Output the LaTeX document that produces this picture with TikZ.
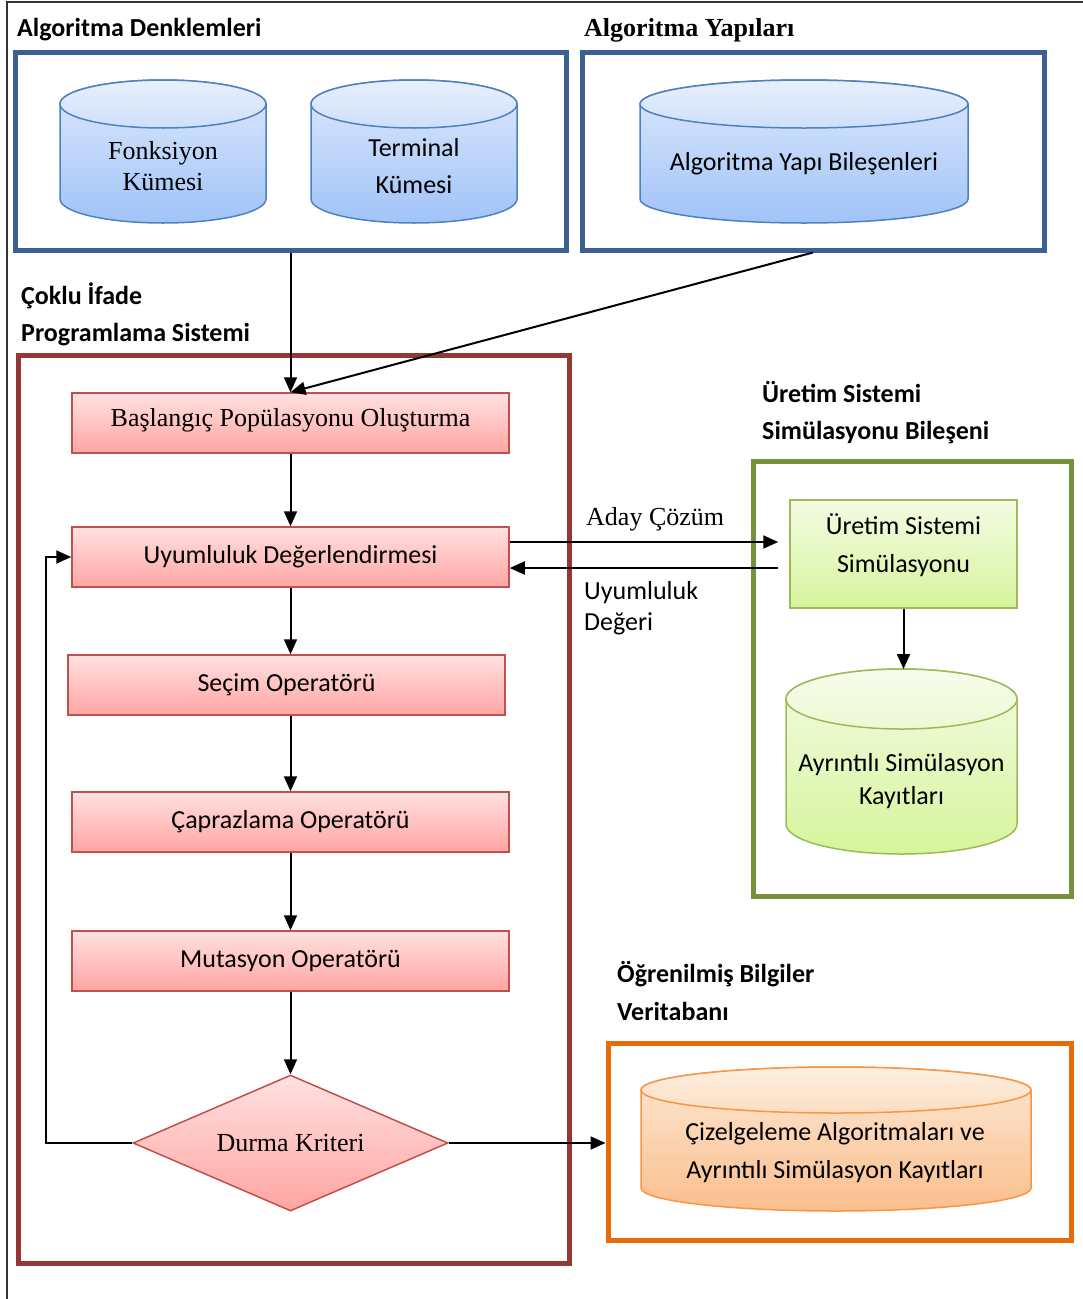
\documentclass[tikz,border=0pt]{standalone}
\usepackage{fontspec}
\setmainfont{Carlito}
\newfontfamily\tnr{Liberation Serif}
\usetikzlibrary{arrows.meta,shapes.geometric}

\definecolor{blueframe}{RGB}{60,96,145}
\definecolor{blueline}{RGB}{79,129,189}
\definecolor{bluetop}{RGB}{222,233,252}
\definecolor{bluebot}{RGB}{160,195,248}
\definecolor{redframe}{RGB}{150,55,53}
\definecolor{redline}{RGB}{192,80,77}
\definecolor{redtop}{RGB}{255,225,225}
\definecolor{redbot}{RGB}{255,165,162}
\definecolor{greenframe}{RGB}{118,146,60}
\definecolor{greenline}{RGB}{155,187,89}
\definecolor{greentop}{RGB}{243,251,228}
\definecolor{greenbot}{RGB}{214,245,155}
\definecolor{orangeframe}{RGB}{228,108,10}
\definecolor{orangeline}{RGB}{247,150,70}
\definecolor{orangetop}{RGB}{253,232,212}
\definecolor{orangebot}{RGB}{250,190,140}

% database cylinder: left x, right x, top centre y, bottom centre y, y radius, colour prefix
\newcommand\dbcyl[6]{%
  \pgfmathsetmacro\cylrx{(#2-#1)/2}%
  \path[draw=#6line, line width=1.5pt, top color=#6top, bottom color=#6bot]
    (#1,#3) -- (#1,#4)
    arc[start angle=180, end angle=360, x radius=\cylrx pt, y radius=#5pt]
    -- (#2,#3)
    arc[start angle=0, end angle=180, x radius=\cylrx pt, y radius=#5pt] -- cycle;
  \path[draw=#6line, line width=1.5pt, top color=#6top!70!white, bottom color=#6top!75!#6bot]
    ({(#1+#2)/2},#3) ellipse[x radius=\cylrx pt, y radius=#5pt];
}

\tikzset{
  txt/.style={font=\fontsize{26}{37}\selectfont, inner sep=0pt, align=center},
  head/.style={font=\fontsize{26}{37}\selectfont\bfseries, inner sep=0pt, anchor=base west},
  group/.style={draw=#1, line width=5pt, rectangle, inner sep=0pt},
  redbox/.style={draw=redline, line width=1.5pt, top color=redtop, bottom color=redbot,
    minimum width=437pt, minimum height=60pt, inner sep=0pt,
    font=\fontsize{26}{37}\selectfont},
  arr/.style={line width=2pt, -{Triangle[length=15pt,width=13pt]}},
}

\begin{document}
\begin{tikzpicture}[x=1pt, y=-1pt]
\useasboundingbox (0,0) rectangle (1083,1299);

% page rule
\draw[black!80, line width=1.5pt] (7,1299) -- (7,2) -- (1083,2);

% group frames
\node[group=blueframe, minimum width=551pt, minimum height=198pt] (denk) at (290.5,151) {};
\node[group=blueframe, minimum width=462pt, minimum height=198pt] (yapi) at (813,151) {};
\node[group=redframe, minimum width=551pt, minimum height=908pt] (prog) at (293.5,809) {};
\node[group=greenframe, minimum width=318pt, minimum height=435pt] (uret) at (912,678.5) {};
\node[group=orangeframe, minimum width=463pt, minimum height=197pt] (ogr) at (839.5,1141.5) {};

% group titles
\node[head] (hdenk) at (17,36) {Algoritma Denklemleri};
\node[head, font=\fontsize{26}{37}\selectfont\bfseries\tnr] (hyapi) at (584,36) {Algoritma Yapıları};
\node[head] (hprog1) at (21,304) {Çoklu İfade};
\node[head] (hprog2) at (21,341) {Programlama Sistemi};
\node[head] (huret1) at (762,402) {Üretim Sistemi};
\node[head] (huret2) at (762,439) {Simülasyonu Bileşeni};
\node[head] (hogr1) at (617,982) {Öğrenilmiş Bilgiler};
\node[head] (hogr2) at (617,1020) {Veritabanı};

% cylinders
\dbcyl{60}{266}{104}{199}{24}{blue}
\dbcyl{311}{517}{104}{199}{24}{blue}
\dbcyl{640}{968}{104}{199}{24}{blue}
\dbcyl{786}{1017}{699}{824}{30}{green}
\dbcyl{641}{1031}{1090}{1188}{23}{orange}

\node[txt, font=\fontsize{26}{31}\selectfont\tnr] (fks) at (163,166) {Fonksiyon\\Kümesi};
\node[txt] (term) at (414,166) {Terminal\\Kümesi};
\node[txt] (yapicyl) at (804,164) {Algoritma Yapı Bileşenleri};
\node[txt, font=\fontsize{26}{33}\selectfont] (ayr) at (901.5,781) {Ayrıntılı Simülasyon\\Kayıtları};
\node[txt, font=\fontsize{26}{38}\selectfont] (cizel) at (835,1153) {Çizelgeleme Algoritmaları ve\\Ayrıntılı Simülasyon Kayıtları};

% flow steps
\node[redbox, label={[font=\fontsize{26}{37}\selectfont\tnr, inner sep=0pt, yshift=3pt]center:Başlangıç Popülasyonu Oluşturma}] (bas) at (290.5,423) {};
\node[redbox] (uyum) at (290.5,557) {Uyumluluk Değerlendirmesi};
\node[redbox] (secim) at (286.5,685) {Seçim Operatörü};
\node[redbox] (capr) at (290.5,822) {Çaprazlama Operatörü};
\node[redbox] (mut) at (290.5,961) {Mutasyon Operatörü};
\node[diamond, aspect=2.3, draw=redline, line width=1.5pt, top color=redtop, bottom color=redbot,
  minimum width=315pt, minimum height=136pt, inner sep=0pt,
  font=\fontsize{26}{37}\selectfont\tnr] (durma) at (290.5,1143) {Durma Kriteri};

\node[draw=greenline, line width=1.5pt, top color=greentop, bottom color=greenbot,
  minimum width=227pt, minimum height=108pt, inner sep=0pt,
  label={[txt, font=\fontsize{26}{38}\selectfont, yshift=9pt]center:{Üretim Sistemi\\Simülasyonu}}] (uss) at (903.5,554) {};
\coordinate (ayrtop) at (903.5,669);

% connector labels
\node[txt, anchor=base west, font=\fontsize{26}{37}\selectfont\tnr] (aday) at (586,525) {Aday Çözüm};
\node[txt, anchor=base west, align=left, font=\fontsize{26}{31}\selectfont] (uyd) at (584,630) {Uyumluluk\\Değeri};

% connectors
\draw[arr] (denk.south) -- (bas.north);
\draw[arr] (yapi.south) -- (bas.north);
\draw[arr] (bas) -- (uyum);
\draw[arr] (uyum.south) -- (uyum.south |- secim.north);
\draw[arr] (capr.north |- secim.south) -- (capr.north);
\draw[arr] (capr) -- (mut);
\draw[arr] (mut) -- (durma);
\draw[arr] (durma.west) -- ++(-86,0) |- (uyum.west);
\draw[arr] (durma.east) -- (durma.east -| ogr.west);
\draw[arr, shorten >=11pt] ([yshift=15pt]uyum.east) -- ([yshift=15pt]uyum.east -| uss.west);
\draw[arr, shorten <=11pt] ([yshift=-11pt]uyum.east -| uss.west) -- ([yshift=-11pt]uyum.east);
\draw[arr] (uss.south) -- (ayrtop);
\end{tikzpicture}
\end{document}
